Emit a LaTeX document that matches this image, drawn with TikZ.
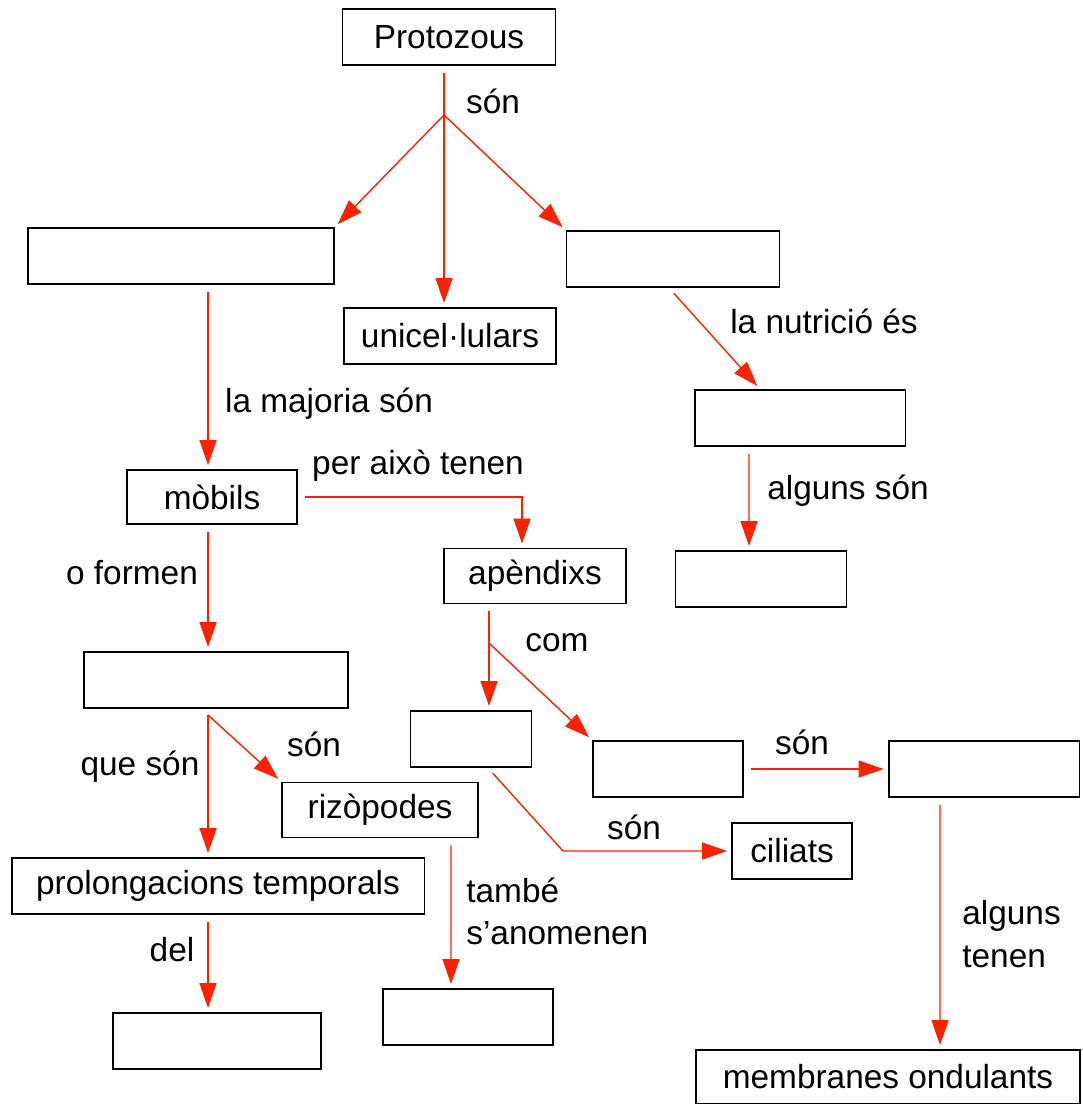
\documentclass[tikz,border=0pt]{standalone}
\usepackage{fontspec}
\setmainfont{Liberation Sans}
\usetikzlibrary{arrows.meta}

\definecolor{linkred}{RGB}{250,35,0}
\tikzset{
    box/.style={draw, line width=1.1pt, minimum height=1.12cm, inner sep=0pt},
    link/.style={draw=linkred, line width=0.8pt, -{Triangle[length=0.5cm, width=0.34cm]}, shorten >=0.08cm},
    gap/.style={shorten <=0.14cm},
    lbl/.style={inner sep=0pt, align=left}
}

\begin{document}
\begin{tikzpicture}[x=0.02cm, y=-0.02cm, font=\fontsize{19}{24}\selectfont]
    \useasboundingbox (0,0) rectangle (1082,1104);
    % boxes
    \node[box, minimum width=4.26cm] (proto) at (449,37) {Protozous};
    \node[box, minimum width=6.12cm] (e1) at (181,256) {};
    \node[box, minimum width=4.24cm] (unicel) at (450,336) {unicel·lulars};
    \node[box, minimum width=4.26cm] (e2) at (673,259) {};
    \node[box, minimum width=4.22cm] (e3) at (800,418) {};
    \node[box, minimum width=3.42cm] (e4) at (761,579) {};
    \node[box, minimum width=3.40cm, minimum height=1.08cm] (mob) at (212,497) {mòbils};
    \node[box, minimum width=3.64cm, minimum height=1.10cm] (app) at (535,576) {apèndixs};
    \node[box, minimum width=5.28cm] (e5) at (216,680) {};
    \node[box, minimum width=2.42cm] (e6) at (471,739) {};
    \node[box, minimum width=3.00cm] (e7) at (668,769) {};
    \node[box, minimum width=3.82cm] (e8) at (984,769) {};
    \node[box, minimum width=3.92cm, minimum height=1.10cm] (riz) at (380,810) {rizòpodes};
    \node[box, minimum width=2.40cm] (cil) at (792,851) {ciliats};
    \node[box, minimum width=8.26cm] (prol) at (218,886) {prolongacions temporals};
    \node[box, minimum width=4.16cm] (e9) at (217,1041) {};
    \node[box, minimum width=3.40cm] (e10) at (468,1017) {};
    \node[box, minimum width=7.68cm, minimum height=1.08cm] (membr) at (888,1077) {membranes ondulants};

    % branch points
    \coordinate (split) at (444,115);
    \coordinate (comsplit) at (489,643);
    \coordinate (rizsplit) at (208,715);
    \coordinate (cilbend) at (563,851);

    % connectors
    \draw[draw=linkred, line width=0.8pt, gap] (proto.south -| split) -- (split);
    \draw[link] (split) -- (e1.north east);
    \draw[link] (split) -- (split |- unicel.north);
    \draw[link] (split) -- (e2.north west);
    \draw[link, gap] (e1.south -| rizsplit) -- (rizsplit |- mob.north);
    \draw[link, gap] ([xshift=-0.08cm]e2.south) -- ([xshift=-0.8cm]e3.north);
    \draw[link, gap] ([xshift=-1.02cm]e3.south) -- ([xshift=-0.24cm]e4.north);
    \draw[link, gap] (mob.east) -| ([xshift=-0.26cm]app.north);
    \draw[link, gap] (mob.south -| rizsplit) -- (rizsplit |- e5.north);
    \draw[link, gap] (app.south -| comsplit) -- (comsplit |- e6.north);
    \draw[link] (comsplit) -- (e7.north west);
    \draw[link, gap] ([xshift=0.34cm]e6.south) -- (cilbend) -- (cil.west);
    \draw[link, gap] (e7.east) -- (e8.west);
    \draw[link, gap] ([xshift=-0.88cm]e8.south) -- ([xshift=1.04cm]membr.north);
    \draw[draw=linkred, line width=0.8pt, gap] (e5.south -| rizsplit) -- (rizsplit);
    \draw[link] (rizsplit) -- (rizsplit |- prol.north);
    \draw[link] (rizsplit) -- (riz.north west);
    \draw[link, gap] (prol.south -| rizsplit) -- (rizsplit |- e9.north);
    \draw[link, gap] ([xshift=1.42cm]riz.south) -- ([xshift=-0.34cm]e10.north);

    % labels
    \node[lbl] (l1) at (493,101) {són};
    \node[lbl] (l2) at (329,404) {la majoria són};
    \node[lbl] (l3) at (824,321) {la nutrició és};
    \node[lbl] (l4) at (848,491) {alguns són};
    \node[lbl] (l5) at (418,466) {per això tenen};
    \node[lbl] (l6) at (132,573) {o formen};
    \node[lbl] (l7) at (557,643) {com};
    \node[lbl] (l8) at (802,742) {són};
    \node[lbl] (l9) at (634,827) {són};
    \node[lbl] (l10) at (140,767) {que són};
    \node[lbl] (l11) at (314,744) {són};
    \node[lbl] (l12) at (172,950) {del};
    \node[lbl, anchor=west] (l13) at (466,911) {també\\s’anomenen};
    \node[lbl, anchor=west] (l14) at (962,934) {alguns\\tenen};
\end{tikzpicture}
\end{document}
